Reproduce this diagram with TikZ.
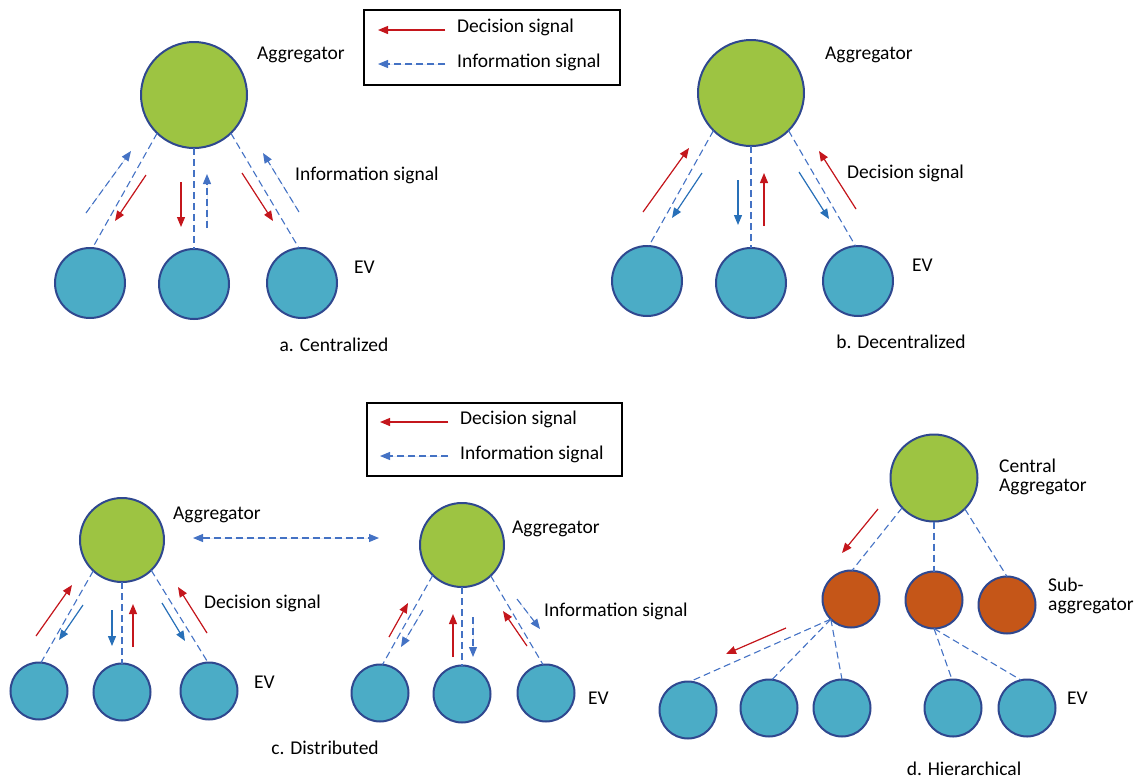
\documentclass[tikz,border=0pt]{standalone}
\usepackage{fontspec}
\setmainfont{Carlito}
\usetikzlibrary{arrows.meta}
\definecolor{aggG}{RGB}{157,196,66}
\definecolor{evB}{RGB}{75,172,198}
\definecolor{subO}{RGB}{197,86,24}
\definecolor{bord}{RGB}{47,72,143}
\definecolor{dashc}{RGB}{68,114,196}
\definecolor{redc}{RGB}{196,22,28}
\definecolor{bluec}{RGB}{40,112,184}
\begin{document}
\begin{tikzpicture}[x=1pt,y=-1pt,
  bigagg/.style={circle,draw=bord,line width=2pt,fill=aggG,minimum size=106pt,inner sep=0pt,outer sep=0pt},
  midagg/.style={circle,draw=bord,line width=2pt,fill=aggG,minimum size=84pt,inner sep=0pt,outer sep=0pt},
  bigev/.style={circle,draw=bord,line width=2pt,fill=evB,minimum size=70pt,inner sep=0pt,outer sep=0pt},
  smallev/.style={circle,draw=bord,line width=2pt,fill=evB,minimum size=57pt,inner sep=0pt,outer sep=0pt},
  subagg/.style={circle,draw=bord,line width=2pt,fill=subO,minimum size=57pt,inner sep=0pt,outer sep=0pt},
  conn/.style={draw=dashc,line width=1.1pt,dash pattern=on 7pt off 4pt},
  dec/.style={draw=redc,line width=1.2pt,-{Triangle[length=10pt,width=8pt]},fill=redc},
  info/.style={draw=dashc,line width=1.1pt,dash pattern=on 7pt off 4pt,-{Triangle[length=10pt,width=8pt]},fill=dashc},
  infos/.style={draw=bluec,line width=1.2pt,-{Triangle[length=10pt,width=8pt]},fill=bluec},
  lbl/.style={anchor=west,inner sep=0pt,font=\fontsize{19.5}{19}\selectfont,align=left},
  captionlbl/.style={inner sep=0pt,font=\fontsize{19.5}{19}\selectfont},
  legbox/.style={draw=black,line width=1.8pt,inner sep=0pt}
]
\useasboundingbox (0,0) rectangle (1144,780);

% ---------------- Legend 1
\node[legbox,minimum width=256pt,minimum height=75pt] (leg1) at (492,47.5) {};
\draw[dec] (445,30) -- (378,30);
\draw[info] (445,64) -- (378,64);
\node[lbl] (l1d) at (457,27.5) {Decision signal};
\node[lbl] (l1i) at (457,62.5) {Information signal};

% ---------------- Panel a
\node[bigagg] (aA) at (194,95) {};
\node[bigev] (aE1) at (90,283) {};
\node[bigev] (aE2) at (194,284) {};
\node[bigev] (aE3) at (302,283) {};
\draw[conn] (aA.226) -- (aE1.86);
\draw[conn] (aA.south) -- (aE2.north);
\draw[conn] (aA.314) -- (aE3.95);
\draw[info] (86,213) -- (131,151);
\draw[dec] (146,175) -- (115,221);
\draw[dec] (181,182) -- (181,227);
\draw[info] (207,228) -- (207,174);
\draw[dec] (242,173) -- (273,221);
\draw[info] (299,212) -- (263,153);
\node[lbl] (aLA) at (257,55) {Aggregator};
\node[lbl] (aLI) at (295,175) {Information signal};
\node[lbl] (aLE) at (354,267) {EV};
\node[captionlbl] (aCap) at (334,345) {a. Centralized};

% ---------------- Panel b
\node[bigagg] (bA) at (751,93) {};
\node[bigev] (bE1) at (647,281) {};
\node[bigev] (bE2) at (751,283) {};
\node[bigev] (bE3) at (858,281) {};
\draw[conn] (bA.225) -- (bE1.87);
\draw[conn] (bA.south) -- (bE2.north);
\draw[conn] (bA.315) -- (bE3.94);
\draw[dec] (643,212) -- (689,148);
\draw[infos] (702,173) -- (672,218);
\draw[infos] (738,180) -- (738,225);
\draw[dec] (764,226) -- (764,173);
\draw[infos] (799,172) -- (829,219);
\draw[dec] (856,209) -- (819,151);
\node[lbl] (bLA) at (825,55) {Aggregator};
\node[lbl] (bLD) at (847,173) {Decision signal};
\node[lbl] (bLE) at (912,265) {EV};
\node[captionlbl] (bCap) at (901,342) {b. Decentralized};

% ---------------- Legend 2
\node[legbox,minimum width=255pt,minimum height=73pt] (leg2) at (494.5,439.5) {};
\draw[dec] (448,422) -- (380,422);
\draw[info] (448,456) -- (380,456);
\node[lbl] (l2d) at (460,419.5) {Decision signal};
\node[lbl] (l2i) at (460,454) {Information signal};

% ---------------- Panel c (left group)
\node[midagg] (cA) at (122,540) {};
\node[smallev] (cE1) at (39,691) {};
\node[smallev] (cE2) at (122,692) {};
\node[smallev] (cE3) at (209,691) {};
\draw[conn] (cA.227) -- (cE1.86);
\draw[conn] (cA.south) -- (cE2.north);
\draw[conn] (cA.314) -- (cE3.92);
\draw[dec] (36,636) -- (72,585);
\draw[infos] (83,605) -- (59,640);
\draw[infos] (112,610) -- (112,646);
\draw[dec] (133,647) -- (133,604);
\draw[infos] (162,603) -- (185,641);
\draw[dec] (207,633) -- (178,587);
\node[lbl] (cLA) at (173,515) {Aggregator};
\node[lbl] (cLD) at (204,603) {Decision signal};
\node[lbl] (cLE) at (254,682) {EV};

% ---------------- Panel c (right group)
\node[midagg] (dA) at (462,545) {};
\node[smallev] (dE1) at (380,693) {};
\node[smallev] (dE2) at (462,694) {};
\node[smallev] (dE3) at (546,693) {};
\draw[conn] (dA.226) -- (dE1.85);
\draw[conn] (dA.south) -- (dE2.north);
\draw[conn] (dA.313) -- (dE3.96);
\draw[dec] (389,637) -- (408,603);
\draw[info] (423,610) -- (401,647);
\draw[dec] (453,657) -- (453,614);
\draw[info] (473,617) -- (473,657);
\draw[dec] (527,646) -- (503,611);
\draw[info] (517,599) -- (540,629);
\node[lbl] (dLA) at (512,529) {Aggregator};
\node[lbl] (dLI) at (544,611) {Information signal};
\node[lbl] (dLE) at (588,698) {EV};

% link between aggregators
\coordinate (linkL) at (193,538);
\coordinate (linkR) at (379,538);
\draw[conn,{Triangle[length=10pt,width=8pt]}-{Triangle[length=10pt,width=8pt]},fill=dashc] (linkL) -- (linkR);
\node[captionlbl] (cCap) at (325,748) {c. Distributed};

% ---------------- Panel d
\node[midagg,minimum size=87pt] (hA) at (934,478) {};
\node[subagg] (hS1) at (851,599) {};
\node[subagg] (hS2) at (934,600) {};
\node[subagg] (hS3) at (1007,605) {};
\node[smallev] (hE1) at (688,710) {};
\node[smallev] (hE2) at (769,708) {};
\node[smallev] (hE3) at (842,708) {};
\node[smallev] (hE4) at (953,708) {};
\node[smallev] (hE5) at (1027,708) {};
\draw[conn] (hA.223) -- (hS1.88);
\draw[conn] (hA.south) -- (hS2.north);
\draw[conn] (hA.315) -- (hS3.north);
\draw[conn] (hS1.225) -- (hE1.86);
\draw[conn] (hS1.225) -- (hE2.84);
\draw[conn] (hS1.225) -- (hE3.north);
\draw[conn] (hS2.south) -- (hE4.92);
\draw[conn] (hS2.south) -- (hE5.102);
\draw[dec] (878,509) -- (842,553);
\draw[dec] (786,628) -- (726,654);
\node[lbl] (hLA) at (999,476.5) {Central\\Aggregator};
\node[lbl] (hLS) at (1048,595.5) {Sub-\\aggregator};
\node[lbl] (hLE) at (1067,698) {EV};
\node[captionlbl] (hCap) at (964,769) {d. Hierarchical};
\end{tikzpicture}
\end{document}
